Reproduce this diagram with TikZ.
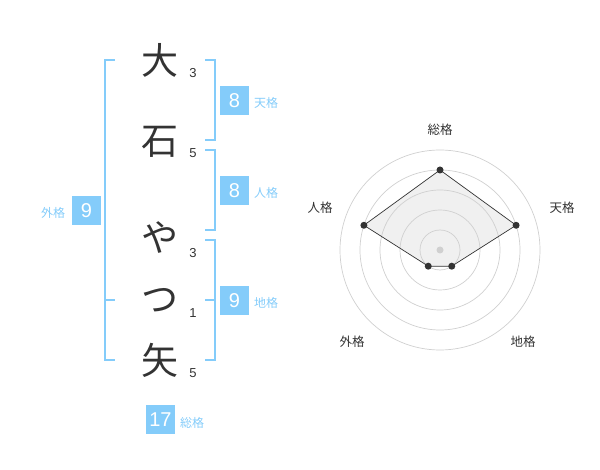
\documentclass[tikz,border=0pt]{standalone}
\usepackage{fontspec}
\setmainfont{Liberation Sans}
\newfontfamily\jp{Noto Sans CJK JP}
\definecolor{sky}{HTML}{84CCFA}
\definecolor{ink}{HTML}{333333}
\definecolor{ring}{HTML}{D0D0D0}
\definecolor{area}{HTML}{F0F0F0}
\begin{document}
\begin{tikzpicture}[x=1pt,y=-1pt,
  kanji/.style={font=\jp\fontsize{37}{37}\selectfont, text=ink, inner sep=0pt},
  strokes/.style={font=\fontsize{13}{13}\selectfont, text=ink, inner sep=0pt},
  valbox/.style={fill=sky, text=white, minimum width=29pt, minimum height=29pt, inner sep=0pt, font=\fontsize{20}{20}\selectfont},
  kaku/.style={font=\jp\fontsize{12}{12}\selectfont, text=sky, inner sep=0pt},
  bracket/.style={draw=sky, line width=1.6pt},
  axislabel/.style={font=\jp\fontsize{12.5}{12.5}\selectfont, text=ink, inner sep=0pt},
  ringline/.style={draw=ring, line width=0.7pt},
  dot/.style={circle, fill=ink, minimum size=7pt, inner sep=0pt},
  hub/.style={circle, fill=ring, minimum size=7pt, inner sep=0pt}]
\useasboundingbox (0,0) rectangle (600,470);
% characters
\node[kanji] (c1) at (160,60) {大};
\node[kanji] (c2) at (160,142) {石};
\node[kanji] (c3) at (160,238) {や};
\node[kanji] (c4) at (160,300) {つ};
\node[kanji] (c5) at (160,360) {矢};
\node[strokes] (n1) at (193,73) {3};
\node[strokes] (n2) at (193,153) {5};
\node[strokes] (n3) at (193,253) {3};
\node[strokes] (n4) at (193,313) {1};
\node[strokes] (n5) at (193,373) {5};
% brackets
\draw[bracket] (115,60) -- (105,60) -- (105,360) -- (115,360);
\draw[bracket] (105,300) -- (115,300);
\draw[bracket] (205,60) -- (215,60) -- (215,140) -- (205,140);
\draw[bracket] (205,150) -- (215,150) -- (215,230) -- (205,230);
\draw[bracket] (205,240) -- (215,240) -- (215,360) -- (205,360);
\draw[bracket] (205,300) -- (215,300);
% value boxes
\node[valbox] (ten) at (234.5,100.5) {8};
\node[kaku] (tenl) at (266,103) {天格};
\node[valbox] (jin) at (234.5,190.5) {8};
\node[kaku] (jinl) at (266,193) {人格};
\node[valbox] (chi) at (234.5,300.5) {9};
\node[kaku] (chil) at (266,303) {地格};
\node[valbox] (gai) at (86.5,210.5) {9};
\node[kaku] (gail) at (53,213) {外格};
\node[valbox] (sou) at (160.5,419.5) {17};
\node[kaku] (soul) at (192,423) {総格};
% radar
\coordinate (ctr) at (440,250);
\path (ctr) ++(-90:80) coordinate (ps);
\path (ctr) ++(-18:80) coordinate (pt);
\path (ctr) ++(54:20) coordinate (pc);
\path (ctr) ++(126:20) coordinate (pg);
\path (ctr) ++(-162:80) coordinate (pj);
\fill[area] (ps) -- (pt) -- (pc) -- (pg) -- (pj) -- cycle;
\foreach \r in {20,40,60,80,100} \draw[ringline] (ctr) circle[radius=\r];
\draw[ink, line width=0.7pt] (ps) -- (pt) -- (pc) -- (pg) -- (pj) -- cycle;
\node[hub] (h) at (ctr) {};
\foreach \p in {ps,pt,pc,pg,pj} \node[dot] at (\p) {};
\node[axislabel] (ls) at (440,130) {総格};
\node[axislabel] (lt) at (562,208) {天格};
\node[axislabel] (lj) at (320,208) {人格};
\node[axislabel] (lg) at (352,342) {外格};
\node[axislabel] (lc) at (523,342) {地格};
\end{tikzpicture}
\end{document}
